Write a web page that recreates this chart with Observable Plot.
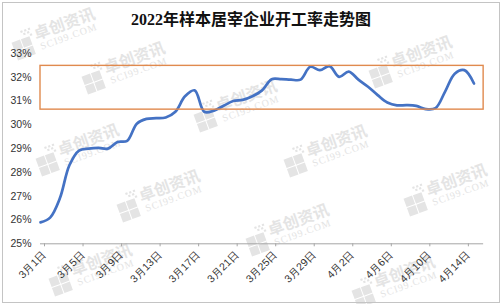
<!DOCTYPE html>
<html><head><meta charset="utf-8">
<script src="https://cdn.jsdelivr.net/npm/d3@7"></script>
<script src="https://cdn.jsdelivr.net/npm/@observablehq/plot@0.6"></script>
<style>
body{margin:0;background:#fff;}
#wrap{position:relative;width:502px;height:304px;overflow:hidden;font-family:"Liberation Sans",Arial,sans-serif;background:#fff;}
#wm{position:absolute;left:0;top:0;z-index:0;}
#frame{position:absolute;left:2px;top:2px;width:496px;height:299px;border:1px solid #c4c4c4;z-index:3;pointer-events:none;}
#title{position:relative;z-index:2;height:34px;box-sizing:border-box;padding-top:10px;line-height:20px;text-align:center;font-family:"Liberation Serif","Noto Sans CJK SC",serif;font-weight:bold;font-size:16px;color:#111;}
#chart{position:relative;z-index:2;}
</style>
</head><body>
<div id="wrap">
<svg id="wm" width="502" height="304"></svg>
<div id="title">2022年样本居宰企业开工率走势图</div>
<div id="chart"></div>
<div id="frame"></div>
</div>
<script>
// Daily operating rate (%) from 3月1日 to 4月15日
const startDay = "2022-03-01";
const values = [
  25.90, 26.10, 26.90, 28.30, 28.92, 29.00, 29.03, 29.00, 29.28, 29.33,
  30.05, 30.25, 30.28, 30.31, 30.55, 31.20, 31.45, 30.55, 30.60, 30.80,
  31.00, 31.05, 31.20, 31.45, 31.92, 31.92, 31.90, 31.90, 32.44, 32.30,
  32.47, 32.02, 32.24, 31.90, 31.60, 31.25, 30.94, 30.82, 30.83, 30.80,
  30.66, 30.70, 31.40, 32.15, 32.30, 31.74
];
const tickLabels = ["3月1日","3月5日","3月9日","3月13日","3月17日","3月21日","3月25日","3月29日","4月2日","4月6日","4月10日","4月14日"];
const yTicks = [25, 26, 27, 28, 29, 30, 31, 32, 33];
const axisEnd = "2022-04-16";
const bandRange = [30.64, 32.48];
const bandDates = ["2022-03-01", "2022-04-16"];

const start = new Date(startDay + "T00:00:00Z");
const dates = values.map((_, i) => new Date(start.getTime() + i * 86400000));
const data = values.map((v, i) => ({date: dates[i], value: v}));
const parseLabel = s => { const m = s.match(/(\d+)月(\d+)日/); return new Date(Date.UTC(2022, +m[1] - 1, +m[2])); };
const tickDates = tickLabels.map(parseLabel);
const fmt = d => `${d.getUTCMonth() + 1}月${d.getUTCDate()}日`;
const band = [{x1: new Date(bandDates[0] + "T00:00:00Z"), x2: new Date(bandDates[1] + "T00:00:00Z"), y1: bandRange[0], y2: bandRange[1]}];
const axisLine = [{x1: start, x2: new Date(axisEnd + "T00:00:00Z"), y: 25}];

const chart = Plot.plot({
  width: 502,
  height: 270,
  marginLeft: 40,
  marginRight: 28.5,
  marginTop: 19,
  marginBottom: 60.7,
  style: {background: "transparent", fontFamily: "'Liberation Sans', Arial, sans-serif", overflow: "visible"},
  x: {type: "utc", domain: [dates[0], dates[dates.length - 1]]},
  y: {domain: [25, 33]},
  marks: [
    Plot.ruleY(axisLine, {x1: "x1", x2: "x2", y: "y", stroke: "#a6a6a6", strokeWidth: 1, clip: false}),
    Plot.axisX(tickDates, {tickFormat: fmt, tickRotate: -45, tickSize: 3, tickPadding: 6, stroke: "#a6a6a6", fontSize: 10.5, fill: "#333", dx: 4, dy: 0, label: null}),
    Plot.axisY(yTicks, {tickFormat: d => d + "%", tickSize: 0, tickPadding: 9, fontSize: 10.5, fill: "#333", label: null}),
    Plot.line(data, {x: "date", y: "value", stroke: "#4472c4", strokeWidth: 2.7, curve: "catmull-rom"}),
    Plot.rect(band, {x1: "x1", x2: "x2", y1: "y1", y2: "y2", fill: "none", stroke: "#e08a4e", strokeWidth: 1.4, clip: false})
  ]
});
document.getElementById("chart").appendChild(chart);

// faint background watermark
const wm = d3.select("#wm");
const spots = [[58,30],[128,64],[82,146],[163,192],[240,102],[415,58],[330,147],[450,186],[292,226],[95,266],[398,278]];
for (const [cx, cy] of spots) {
  const g = wm.append("g").attr("transform", `translate(${cx},${cy}) rotate(-20)`).attr("fill", "#e4e4e4");
  for (const [ox, oy] of [[-48,-4],[-38,-4],[-48,6],[-38,6]]) g.append("rect").attr("x", ox).attr("y", oy).attr("width", 9).attr("height", 9);
  for (const [ox, oy] of [[-36,-12],[-32,-12],[-28,-12],[-34,-9],[-30,-9],[-28,-6]]) g.append("rect").attr("x", ox).attr("y", oy).attr("width", 2.2).attr("height", 2.2);
  g.append("text").attr("x", -24).attr("y", 2).attr("font-size", 16).attr("font-weight", "bold").attr("font-family", "'Noto Sans CJK SC', sans-serif").text("卓创资讯");
  g.append("text").attr("x", -22).attr("y", 13).attr("font-size", 10).attr("font-family", "'Liberation Serif', serif").attr("letter-spacing", 1).text("SCI99.COM");
}
</script>
</body></html>
